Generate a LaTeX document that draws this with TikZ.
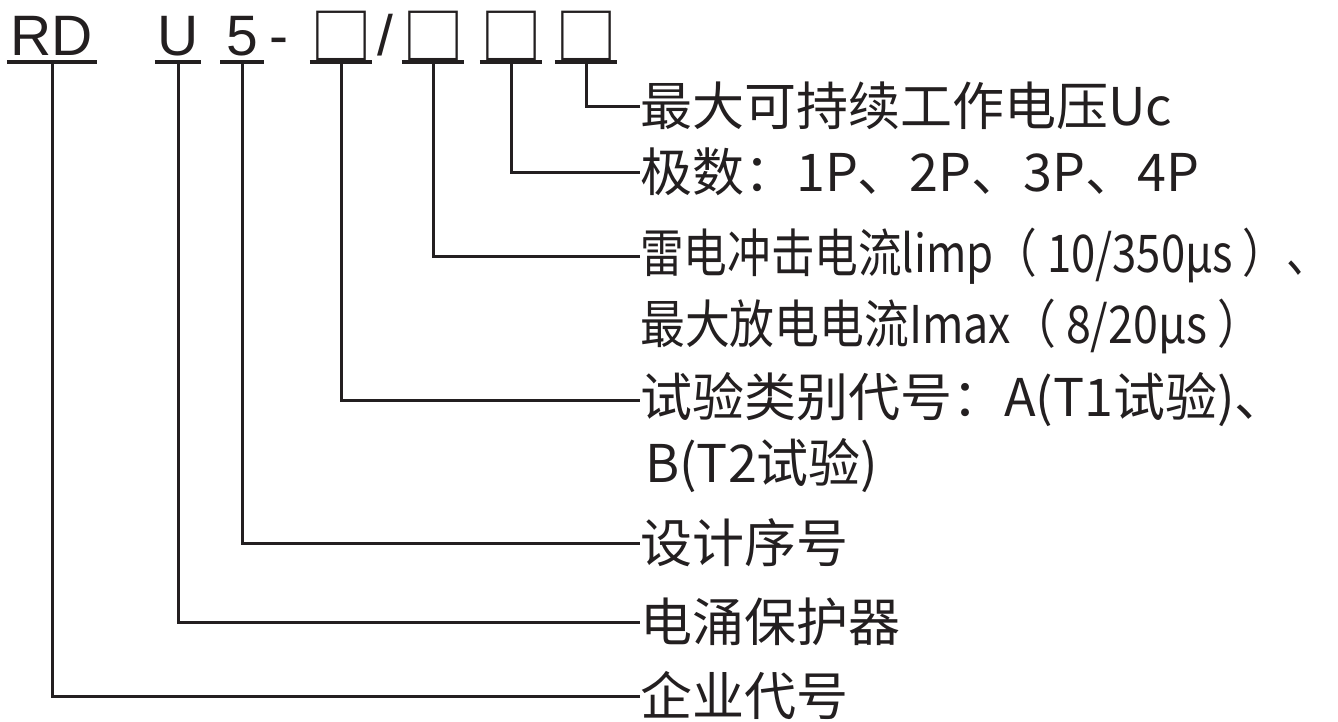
\documentclass[tikz,border=0pt]{standalone}
\usepackage{fontspec}
\usepackage{graphicx}
\setmainfont{Liberation Sans}
\newfontfamily\cjkfont{Noto Sans CJK SC}
\usetikzlibrary{positioning}
\definecolor{inkColor}{RGB}{35, 31, 32}
\tikzset{
    code_part/.style={
        inner xsep=0pt,
        inner ysep=7pt,
        text depth=0pt,
        anchor=base,
        text=inkColor,
        font=\fontsize{57}{59}\selectfont
    },
    code_box/.style={
        code_part,
        font=\cjkfont\fontsize{62}{64}\selectfont
    },
    code_line/.style={
        line width=4pt,
        draw=inkColor
    },
    lead_line/.style={
        line width=3pt,
        draw=inkColor
    },
    label_text/.style={
        anchor=west,
        inner sep=0pt,
        text=inkColor,
        font=\cjkfont\fontsize{52}{54}\selectfont
    }
}
\begin{document}
\begin{tikzpicture}[x=1pt, y=-1pt]
    \useasboundingbox (0,0) rectangle (1338,721);

    % model code
    \node[code_part, minimum width=90pt] (rd) at (52,55) {RD};
    \node[code_part, minimum width=46pt] (u) at (178,55) {U};
    \node[code_part, minimum width=43pt] (five) at (242,55) {5};
    \node[code_part] (dash) at (279,55) {-};
    \node[code_box, minimum width=56pt] (boxa) at (341,59) {□};
    \node[code_part] (slash) at (385,55) {/};
    \node[code_box, minimum width=56pt] (boxb) at (433,59) {□};
    \node[code_box, minimum width=52pt] (boxc) at (511,59) {□};
    \node[code_box, minimum width=56pt] (boxd) at (586,59) {□};

    \foreach \part in {rd, u, five}
        \draw[code_line] (\part.south west) -- (\part.south east);
    \foreach \part in {boxa, boxb, boxc, boxd}
        \draw[code_line] ([yshift=4pt]\part.south west) -- ([yshift=4pt]\part.south east);

    % labels
    \node[label_text] (uc) at (640,106) {最大可持续工作电压Uc};
    \node[label_text] (poles) at (640,172) {极数：1P、2P、3P、4P};
    \node[label_text] (imp) at (640,256) {\resizebox{690pt}{\height}{雷电冲击电流limp（ 10/350μs ）、}};
    \node[label_text] (imax) at (640,326) {\resizebox{622pt}{\height}{最大放电电流Imax（ 8/20μs ）}};
    \node[label_text] (test) at (640,400) {试验类别代号：A(T1试验)、};
    \node[label_text] (testb) at (645,466) {B(T2试验)};
    \node[label_text] (serial) at (640,543) {设计序号};
    \node[label_text] (spd) at (640,622) {电涌保护器};
    \node[label_text] (firm) at (640,696) {企业代号};

    % leaders
    \draw[lead_line] ([yshift=4pt]boxd.south) |- (uc.west);
    \draw[lead_line] ([yshift=4pt]boxc.south) |- (poles.west);
    \draw[lead_line] ([yshift=4pt]boxb.south) |- (imp.west);
    \draw[lead_line] ([yshift=4pt]boxa.south) |- (test.west);
    \draw[lead_line] (five.south) |- (serial.west);
    \draw[lead_line] (u.south) |- (spd.west);
    \draw[lead_line] (rd.south) |- (firm.west);
\end{tikzpicture}
\end{document}
